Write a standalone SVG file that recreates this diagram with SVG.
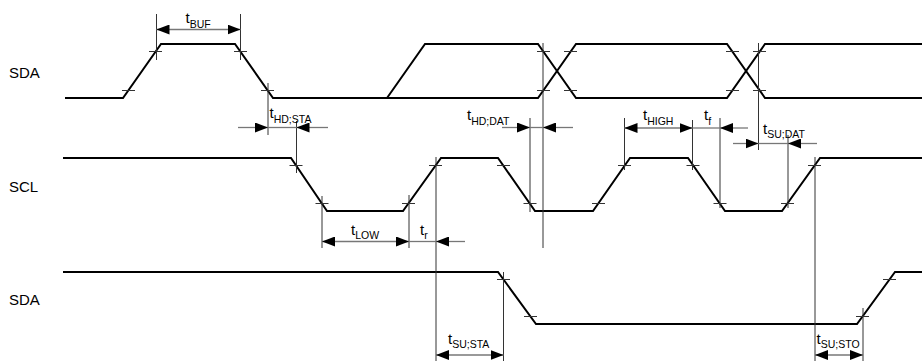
<svg xmlns="http://www.w3.org/2000/svg" width="922" height="363" viewBox="0 0 922 363">
<style>
.sig{fill:none;stroke:#000;stroke-width:2;stroke-linejoin:miter}
.tick{stroke:#333;stroke-width:1}
.ext{stroke:#333;stroke-width:1}
.dim{stroke:#777;stroke-width:1.3;fill:none}
.lbl{font-family:"Liberation Sans",Arial,sans-serif;font-size:15px;fill:#000}
.t{font-family:"Liberation Sans",Arial,sans-serif;font-size:15px;fill:#000}
.sub{font-size:10.5px}
</style>
<defs>
<marker id="ah" viewBox="0 0 13 10" refX="13" refY="5" markerWidth="13" markerHeight="10" markerUnits="userSpaceOnUse" orient="auto-start-reverse">
<path d="M0,0 L13,5 L0,10 z" fill="#000"/>
</marker>
</defs>
<rect width="922" height="363" fill="#fff"/>

<g id="label-sda-top"><text class="lbl" x="9" y="78">SDA</text></g>
<g id="label-scl"><text class="lbl" x="9" y="192">SCL</text></g>
<g id="label-sda-bottom"><text class="lbl" x="9" y="305">SDA</text></g>

<g id="sda-top">
<path class="sig" d="M65,98 H123 L161,44 H235 L273,98 H538 L576,44 H727 L765,98 H922"/>
<path class="sig" d="M387,98 L425,44 H538 L576,98 H727 L765,44 H922"/>
<g class="tick">
<line x1="122" y1="90.5" x2="135" y2="90.5"/>
<line x1="149" y1="51.5" x2="162" y2="51.5"/>
<line x1="234" y1="51.5" x2="247" y2="51.5"/>
<line x1="261" y1="90.5" x2="274" y2="90.5"/>
<line x1="537" y1="51.5" x2="550" y2="51.5"/>
<line x1="537" y1="90.5" x2="550" y2="90.5"/>
<line x1="564" y1="51.5" x2="577" y2="51.5"/>
<line x1="564" y1="90.5" x2="577" y2="90.5"/>
<line x1="726" y1="51.5" x2="739" y2="51.5"/>
<line x1="726" y1="90.5" x2="739" y2="90.5"/>
<line x1="753" y1="51.5" x2="766" y2="51.5"/>
<line x1="753" y1="90.5" x2="766" y2="90.5"/>
</g>
</g>

<g id="scl">
<path class="sig" d="M63,158 H291 L327,211 H403 L441,158 H498 L535,211 H593 L630,158 H688 L725,211 H782 L820,158 H922"/>
<g class="tick">
<line x1="289.5" y1="165.5" x2="302.5" y2="165.5"/>
<line x1="315.5" y1="203.5" x2="328.5" y2="203.5"/>
<line x1="402" y1="203.5" x2="415" y2="203.5"/>
<line x1="429" y1="165.5" x2="442" y2="165.5"/>
<line x1="497" y1="165.5" x2="510" y2="165.5"/>
<line x1="523.5" y1="203.5" x2="536.5" y2="203.5"/>
<line x1="592" y1="203.5" x2="605" y2="203.5"/>
<line x1="618" y1="165.5" x2="631" y2="165.5"/>
<line x1="686.5" y1="165.5" x2="699.5" y2="165.5"/>
<line x1="713.5" y1="203.5" x2="726.5" y2="203.5"/>
<line x1="781" y1="203.5" x2="794" y2="203.5"/>
<line x1="808" y1="165.5" x2="821" y2="165.5"/>
</g>
</g>

<g id="sda-bottom">
<path class="sig" d="M63,272 H498 L536,324 H857 L895,272 H922"/>
<g class="tick">
<line x1="497" y1="279.5" x2="510" y2="279.5"/>
<line x1="524" y1="316.5" x2="537" y2="316.5"/>
<line x1="856" y1="316.5" x2="869" y2="316.5"/>
<line x1="883" y1="279.5" x2="896" y2="279.5"/>
</g>
</g>

<g id="connectors">
<g id="extension-lines" class="ext">
<line x1="156.5" y1="14" x2="156.5" y2="60"/>
<line x1="240.5" y1="14" x2="240.5" y2="60"/>
<line x1="268" y1="83" x2="268" y2="135"/>
<line x1="296.5" y1="121" x2="296.5" y2="173"/>
<line x1="322" y1="196" x2="322" y2="248"/>
<line x1="409" y1="195" x2="409" y2="248"/>
<line x1="436" y1="157" x2="436" y2="361"/>
<line x1="503.5" y1="272" x2="503.5" y2="361"/>
<line x1="530" y1="118" x2="530" y2="212"/>
<line x1="543" y1="43" x2="543" y2="248"/>
<line x1="624.5" y1="118" x2="624.5" y2="170"/>
<line x1="692.5" y1="120" x2="692.5" y2="170"/>
<line x1="720" y1="118" x2="720" y2="208"/>
<line x1="758.5" y1="43" x2="758.5" y2="150"/>
<line x1="788" y1="135" x2="788" y2="208"/>
<line x1="815" y1="157" x2="815" y2="361"/>
<line x1="863" y1="308" x2="863" y2="361"/>
</g>
<g id="dimension-lines" class="dim">
<line id="d-buf" x1="156.5" y1="29.5" x2="240.5" y2="29.5" marker-start="url(#ah)" marker-end="url(#ah)"/>
<line x1="238" y1="127.5" x2="268" y2="127.5" marker-end="url(#ah)"/>
<line x1="268" y1="127.5" x2="296.5" y2="127.5"/>
<line x1="328" y1="127.5" x2="296.5" y2="127.5" marker-end="url(#ah)"/>
<line x1="502" y1="127.5" x2="530" y2="127.5" marker-end="url(#ah)"/>
<line x1="530" y1="127.5" x2="543" y2="127.5"/>
<line x1="573" y1="127.5" x2="543" y2="127.5" marker-end="url(#ah)"/>
<line x1="624.5" y1="128" x2="692.5" y2="128" marker-start="url(#ah)" marker-end="url(#ah)"/>
<line x1="692.5" y1="128" x2="720" y2="128"/>
<line x1="748" y1="128" x2="720" y2="128" marker-end="url(#ah)"/>
<line x1="733" y1="143.5" x2="758.5" y2="143.5" marker-end="url(#ah)"/>
<line x1="758.5" y1="143.5" x2="788" y2="143.5"/>
<line x1="817" y1="143.5" x2="788" y2="143.5" marker-end="url(#ah)"/>
<line x1="322" y1="241.5" x2="409" y2="241.5" marker-start="url(#ah)" marker-end="url(#ah)"/>
<line x1="409" y1="241.5" x2="436" y2="241.5"/>
<line x1="465" y1="241.5" x2="436" y2="241.5" marker-end="url(#ah)"/>
<line x1="436" y1="355" x2="503.5" y2="355" marker-start="url(#ah)" marker-end="url(#ah)"/>
<line x1="815" y1="355" x2="863" y2="355" marker-start="url(#ah)" marker-end="url(#ah)"/>
</g>
<g id="dimension-labels" class="t">
<text x="185.5" y="23">t<tspan class="sub" dy="5">BUF</tspan></text>
<text x="269.5" y="118">t<tspan class="sub" dy="4.5">HD;STA</tspan></text>
<text x="467" y="120">t<tspan class="sub" dy="5">HD;DAT</tspan></text>
<text x="643" y="120">t<tspan class="sub" dy="4.5">HIGH</tspan></text>
<text x="704" y="120">t<tspan class="sub" dy="4.5">f</tspan></text>
<text x="763" y="134">t<tspan class="sub" dy="4">SU;DAT</tspan></text>
<text x="351" y="235">t<tspan class="sub" dy="3.5">LOW</tspan></text>
<text x="420" y="235">t<tspan class="sub" dy="3.5">r</tspan></text>
<text x="448" y="343.5">t<tspan class="sub" dy="4.5">SU;STA</tspan></text>
<text x="816.5" y="343.5">t<tspan class="sub" dy="4.5">SU;STO</tspan></text>
</g>
</g>
</svg>
